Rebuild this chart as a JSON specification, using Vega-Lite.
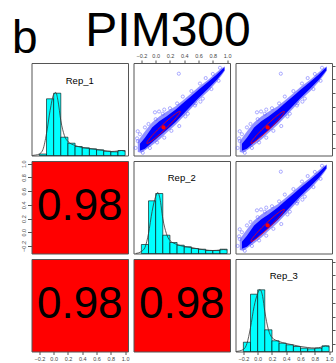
{
  "$schema": "https://vega.github.io/schema/vega-lite/v6.json",
  "padding": {"left": 10.5, "top": 7, "right": 0, "bottom": 0},
  "background": "white",
  "columns": 3,
  "spacing": 5,
  "bounds": "flush",
  "datasets": {
    "hist": [
      {"rep": "Rep_1", "b0": -0.2, "b1": -0.1, "h": 1.5},
      {"rep": "Rep_1", "b0": -0.1, "b1": 0.0, "h": 56.7},
      {"rep": "Rep_1", "b0": 0.0, "b1": 0.1, "h": 62.3},
      {"rep": "Rep_1", "b0": 0.1, "b1": 0.2, "h": 18.3},
      {"rep": "Rep_1", "b0": 0.2, "b1": 0.3, "h": 12.3},
      {"rep": "Rep_1", "b0": 0.3, "b1": 0.4, "h": 9},
      {"rep": "Rep_1", "b0": 0.4, "b1": 0.5, "h": 7.7},
      {"rep": "Rep_1", "b0": 0.5, "b1": 0.6, "h": 6.7},
      {"rep": "Rep_1", "b0": 0.6, "b1": 0.7, "h": 5.7},
      {"rep": "Rep_1", "b0": 0.7, "b1": 0.8, "h": 4.3},
      {"rep": "Rep_1", "b0": 0.8, "b1": 0.9, "h": 3.7},
      {"rep": "Rep_1", "b0": 0.9, "b1": 1.0, "h": 5},
      {"rep": "Rep_2", "b0": -0.2, "b1": -0.1, "h": 9},
      {"rep": "Rep_2", "b0": -0.1, "b1": 0.0, "h": 52.7},
      {"rep": "Rep_2", "b0": 0.0, "b1": 0.1, "h": 60},
      {"rep": "Rep_2", "b0": 0.1, "b1": 0.2, "h": 18.3},
      {"rep": "Rep_2", "b0": 0.2, "b1": 0.3, "h": 11},
      {"rep": "Rep_2", "b0": 0.3, "b1": 0.4, "h": 8.3},
      {"rep": "Rep_2", "b0": 0.4, "b1": 0.5, "h": 6.7},
      {"rep": "Rep_2", "b0": 0.5, "b1": 0.6, "h": 5},
      {"rep": "Rep_2", "b0": 0.6, "b1": 0.7, "h": 4.3},
      {"rep": "Rep_2", "b0": 0.7, "b1": 0.8, "h": 3},
      {"rep": "Rep_2", "b0": 0.8, "b1": 0.9, "h": 3},
      {"rep": "Rep_2", "b0": 0.9, "b1": 1.0, "h": 4.3},
      {"rep": "Rep_3", "b0": -0.2, "b1": -0.1, "h": 9.3},
      {"rep": "Rep_3", "b0": -0.1, "b1": 0.0, "h": 57.3},
      {"rep": "Rep_3", "b0": 0.0, "b1": 0.1, "h": 61.7},
      {"rep": "Rep_3", "b0": 0.1, "b1": 0.2, "h": 21.7},
      {"rep": "Rep_3", "b0": 0.2, "b1": 0.3, "h": 10.7},
      {"rep": "Rep_3", "b0": 0.3, "b1": 0.4, "h": 8.3},
      {"rep": "Rep_3", "b0": 0.4, "b1": 0.5, "h": 6.7},
      {"rep": "Rep_3", "b0": 0.5, "b1": 0.6, "h": 5},
      {"rep": "Rep_3", "b0": 0.6, "b1": 0.7, "h": 3.3},
      {"rep": "Rep_3", "b0": 0.7, "b1": 0.8, "h": 2.7},
      {"rep": "Rep_3", "b0": 0.8, "b1": 0.9, "h": 3.3},
      {"rep": "Rep_3", "b0": 0.9, "b1": 1.0, "h": 5.7}
    ],
    "dens": [
      {"rep": "Rep_1", "x": -0.30, "h": 0},
      {"rep": "Rep_1", "x": -0.25, "h": 0.5},
      {"rep": "Rep_1", "x": -0.2, "h": 1.5},
      {"rep": "Rep_1", "x": -0.15, "h": 6},
      {"rep": "Rep_1", "x": -0.1, "h": 22},
      {"rep": "Rep_1", "x": -0.05, "h": 45},
      {"rep": "Rep_1", "x": 0.0, "h": 61},
      {"rep": "Rep_1", "x": 0.03, "h": 63},
      {"rep": "Rep_1", "x": 0.06, "h": 55},
      {"rep": "Rep_1", "x": 0.1, "h": 35},
      {"rep": "Rep_1", "x": 0.15, "h": 20},
      {"rep": "Rep_1", "x": 0.2, "h": 14},
      {"rep": "Rep_1", "x": 0.3, "h": 10},
      {"rep": "Rep_1", "x": 0.4, "h": 8},
      {"rep": "Rep_1", "x": 0.5, "h": 7},
      {"rep": "Rep_1", "x": 0.6, "h": 6},
      {"rep": "Rep_1", "x": 0.7, "h": 5},
      {"rep": "Rep_1", "x": 0.8, "h": 4},
      {"rep": "Rep_1", "x": 0.9, "h": 4.5},
      {"rep": "Rep_1", "x": 0.95, "h": 5},
      {"rep": "Rep_1", "x": 1.0, "h": 4},
      {"rep": "Rep_2", "x": -0.28, "h": 0},
      {"rep": "Rep_2", "x": -0.2, "h": 2},
      {"rep": "Rep_2", "x": -0.15, "h": 6},
      {"rep": "Rep_2", "x": -0.1, "h": 20},
      {"rep": "Rep_2", "x": -0.05, "h": 42},
      {"rep": "Rep_2", "x": 0.0, "h": 57},
      {"rep": "Rep_2", "x": 0.03, "h": 61},
      {"rep": "Rep_2", "x": 0.06, "h": 55},
      {"rep": "Rep_2", "x": 0.1, "h": 35},
      {"rep": "Rep_2", "x": 0.15, "h": 20},
      {"rep": "Rep_2", "x": 0.2, "h": 13},
      {"rep": "Rep_2", "x": 0.3, "h": 9},
      {"rep": "Rep_2", "x": 0.4, "h": 7},
      {"rep": "Rep_2", "x": 0.5, "h": 6},
      {"rep": "Rep_2", "x": 0.6, "h": 4.5},
      {"rep": "Rep_2", "x": 0.7, "h": 3.5},
      {"rep": "Rep_2", "x": 0.8, "h": 3},
      {"rep": "Rep_2", "x": 0.9, "h": 3.5},
      {"rep": "Rep_2", "x": 0.95, "h": 4},
      {"rep": "Rep_2", "x": 1.0, "h": 3.5},
      {"rep": "Rep_3", "x": -0.3, "h": 0},
      {"rep": "Rep_3", "x": -0.2, "h": 2},
      {"rep": "Rep_3", "x": -0.15, "h": 8},
      {"rep": "Rep_3", "x": -0.1, "h": 24},
      {"rep": "Rep_3", "x": -0.05, "h": 45},
      {"rep": "Rep_3", "x": 0.0, "h": 58},
      {"rep": "Rep_3", "x": 0.03, "h": 62},
      {"rep": "Rep_3", "x": 0.07, "h": 55},
      {"rep": "Rep_3", "x": 0.1, "h": 40},
      {"rep": "Rep_3", "x": 0.15, "h": 22},
      {"rep": "Rep_3", "x": 0.2, "h": 14},
      {"rep": "Rep_3", "x": 0.3, "h": 10},
      {"rep": "Rep_3", "x": 0.4, "h": 8},
      {"rep": "Rep_3", "x": 0.5, "h": 6.5},
      {"rep": "Rep_3", "x": 0.6, "h": 5},
      {"rep": "Rep_3", "x": 0.7, "h": 4},
      {"rep": "Rep_3", "x": 0.8, "h": 3.5},
      {"rep": "Rep_3", "x": 0.9, "h": 4.5},
      {"rep": "Rep_3", "x": 0.95, "h": 5.5},
      {"rep": "Rep_3", "x": 1.0, "h": 4.5}
    ],
    "outer": [
      {"x": -0.25, "lo": -0.26, "hi": -0.10},
      {"x": -0.2, "lo": -0.27, "hi": -0.03},
      {"x": -0.13, "lo": -0.22, "hi": 0.07},
      {"x": -0.05, "lo": -0.16, "hi": 0.17},
      {"x": 0.05, "lo": -0.08, "hi": 0.26},
      {"x": 0.15, "lo": 0.02, "hi": 0.33},
      {"x": 0.28, "lo": 0.14, "hi": 0.41},
      {"x": 0.4, "lo": 0.27, "hi": 0.51},
      {"x": 0.5, "lo": 0.38, "hi": 0.60},
      {"x": 0.6, "lo": 0.50, "hi": 0.69},
      {"x": 0.74, "lo": 0.63, "hi": 0.80},
      {"x": 0.85, "lo": 0.76, "hi": 0.90},
      {"x": 0.93, "lo": 0.87, "hi": 0.97},
      {"x": 0.97, "lo": 0.93, "hi": 0.99}
    ],
    "inner": [
      {"x": -0.22, "lo": -0.24, "hi": -0.14},
      {"x": -0.15, "lo": -0.21, "hi": -0.05},
      {"x": -0.05, "lo": -0.12, "hi": 0.10},
      {"x": 0.05, "lo": -0.03, "hi": 0.19},
      {"x": 0.15, "lo": 0.06, "hi": 0.26},
      {"x": 0.28, "lo": 0.18, "hi": 0.36},
      {"x": 0.4, "lo": 0.31, "hi": 0.47},
      {"x": 0.5, "lo": 0.42, "hi": 0.56},
      {"x": 0.6, "lo": 0.53, "hi": 0.65},
      {"x": 0.74, "lo": 0.67, "hi": 0.77},
      {"x": 0.85, "lo": 0.79, "hi": 0.87},
      {"x": 0.93, "lo": 0.89, "hi": 0.95},
      {"x": 0.96, "lo": 0.93, "hi": 0.975}
    ],
    "pts": [
      {"x": 0.324, "y": 0.884}, {"x": 0.047, "y": 0.332}, {"x": -0.01, "y": 0.32},
      {"x": -0.251, "y": 0.044}, {"x": -0.251, "y": -0.1}, {"x": 0.416, "y": 0.26},
      {"x": 0.12, "y": 0.36}, {"x": -0.28, "y": -0.2}, {"x": -0.26, "y": -0.06},
      {"x": -0.22, "y": 0.0}, {"x": -0.18, "y": -0.27}, {"x": -0.15, "y": 0.1},
      {"x": -0.1, "y": 0.15}, {"x": -0.08, "y": -0.2}, {"x": 0.0, "y": 0.22},
      {"x": 0.02, "y": -0.12}, {"x": 0.1, "y": 0.3}, {"x": 0.12, "y": -0.05},
      {"x": 0.2, "y": 0.38}, {"x": 0.22, "y": 0.05}, {"x": 0.3, "y": 0.45},
      {"x": 0.33, "y": 0.12}, {"x": 0.38, "y": 0.55}, {"x": 0.45, "y": 0.3},
      {"x": 0.5, "y": 0.63}, {"x": 0.55, "y": 0.42}, {"x": 0.62, "y": 0.74},
      {"x": 0.66, "y": 0.52}, {"x": 0.7, "y": 0.82}, {"x": 0.78, "y": 0.66},
      {"x": 0.8, "y": 0.88}, {"x": 0.88, "y": 0.78}, {"x": 0.9, "y": 0.97},
      {"x": 0.626, "y": 0.476}, {"x": 0.56, "y": 0.45}
    ],
    "ell": [
      {"i": 0, "x2": 0.343, "x3": 0.373, "y": 0.333},
      {"i": 1, "x2": 0.300, "x3": 0.330, "y": 0.315},
      {"i": 2, "x2": 0.205, "x3": 0.235, "y": 0.238},
      {"i": 3, "x2": 0.085, "x3": 0.115, "y": 0.125},
      {"i": 4, "x2": -0.028, "x3": 0.002, "y": 0.005},
      {"i": 5, "x2": -0.105, "x3": -0.075, "y": -0.090},
      {"i": 6, "x2": -0.123, "x3": -0.093, "y": -0.133},
      {"i": 7, "x2": -0.080, "x3": -0.050, "y": -0.115},
      {"i": 8, "x2": 0.015, "x3": 0.045, "y": -0.038},
      {"i": 9, "x2": 0.135, "x3": 0.165, "y": 0.075},
      {"i": 10, "x2": 0.248, "x3": 0.278, "y": 0.195},
      {"i": 11, "x2": 0.325, "x3": 0.355, "y": 0.290}
    ],
    "mean": [{"x2": 0.11, "x3": 0.14, "y": 0.10}],
    "corr": [{"r": "0.98", "c": 0.365}],
    "heads": [
      {"t": "b", "x": -0.583, "y": 102.5},
      {"t": "PIM300", "x": 1.60, "y": 109.5}
    ]
  },
  "concat": [
    {
      "width": 96.5, "height": 92.5,
      "layer": [
        {"data": {"name": "hist"}, "transform": [{"filter": "datum.rep === 'Rep_1'"}],
         "mark": {"type": "rect", "fill": "#00ffff", "stroke": "black", "strokeWidth": 0.6},
         "encoding": {"x": {"field": "b0", "type": "quantitative", "scale": {"domain": [-0.31, 1.04]}, "axis": null}, "x2": {"field": "b1"},
                      "y": {"field": "h", "type": "quantitative", "scale": {"domain": [0, 92.5]}, "axis": null}, "y2": {"datum": 0}}},
        {"data": {"name": "dens"}, "transform": [{"filter": "datum.rep === 'Rep_1'"}],
         "mark": {"type": "line", "color": "#333", "strokeWidth": 0.8, "interpolate": "monotone"},
         "encoding": {"x": {"field": "x", "type": "quantitative", "scale": {"domain": [-0.31, 1.04]}}, "y": {"field": "h", "type": "quantitative", "scale": {"domain": [0, 92.5]}}}},
        {"data": {"values": [{"t": "Rep_1"}]},
         "mark": {"type": "text", "fontSize": 9.5, "color": "black"},
         "encoding": {"text": {"field": "t"}, "x": {"datum": 0.365, "type": "quantitative", "scale": {"domain": [-0.31, 1.04]}}, "y": {"datum": 74.5, "type": "quantitative", "scale": {"domain": [0, 92.5]}}}},
        {"data": {"name": "heads"}, "transform": [{"filter": "datum.t === 'b'"}],
         "mark": {"type": "text", "fontSize": 46, "color": "black", "align": "left", "baseline": "alphabetic", "clip": false},
         "encoding": {"text": {"field": "t"}, "x": {"field": "x", "type": "quantitative", "scale": {"domain": [-0.31, 1.04]}}, "y": {"field": "y", "type": "quantitative", "scale": {"domain": [0, 92.5]}}}},
        {"data": {"name": "heads"}, "transform": [{"filter": "datum.t === 'PIM300'"}],
         "mark": {"type": "text", "fontSize": 48, "color": "black", "align": "center", "baseline": "alphabetic", "clip": false},
         "encoding": {"text": {"field": "t"}, "x": {"field": "x", "type": "quantitative", "scale": {"domain": [-0.31, 1.04]}}, "y": {"field": "y", "type": "quantitative", "scale": {"domain": [0, 92.5]}}}}
      ]
    },
    {
      "width": 96.5, "height": 92.5,
      "encoding": {
        "x": {"type": "quantitative", "scale": {"domain": [-0.31, 1.04]}, "axis": {"orient": "top", "title": null, "values": [-0.2, 0, 0.2, 0.4, 0.6, 0.8, 1.0], "format": ".1f", "labelOverlap": false, "labelBound": false}},
        "y": {"type": "quantitative", "scale": {"domain": [-0.31, 1.04]}, "axis": null}
      },
      "layer": [
        {"data": {"name": "outer"}, "mark": {"type": "area", "color": "#4646ff", "opacity": 0.6},
         "encoding": {"x": {"field": "x"}, "y": {"field": "lo"}, "y2": {"field": "hi"}}},
        {"data": {"name": "inner"}, "mark": {"type": "area", "color": "#0000ff"},
         "encoding": {"x": {"field": "x"}, "y": {"field": "lo"}, "y2": {"field": "hi"}}},
        {"data": {"name": "pts"}, "mark": {"type": "point", "shape": "circle", "filled": false, "size": 10, "color": "#5050ff", "strokeWidth": 0.8, "opacity": 0.6},
         "encoding": {"x": {"field": "x"}, "y": {"field": "y"}}},
        {"data": {"name": "ell"}, "mark": {"type": "line", "color": "#ff0000", "strokeWidth": 0.8, "interpolate": "cardinal-closed"},
         "encoding": {"x": {"field": "x2"}, "y": {"field": "y"}, "order": {"field": "i"}}},
        {"data": {"name": "mean"}, "mark": {"type": "point", "shape": "circle", "filled": true, "size": 18, "color": "#ff0000", "opacity": 1},
         "encoding": {"x": {"field": "x2"}, "y": {"field": "y"}}}
      ]
    },
    {
      "width": 96.5, "height": 92.5,
      "encoding": {
        "x": {"type": "quantitative", "scale": {"domain": [-0.31, 1.04]}, "axis": null},
        "y": {"type": "quantitative", "scale": {"domain": [-0.31, 1.04]}, "axis": {"orient": "right", "title": null, "labels": false, "values": [-0.2, 0, 0.2, 0.4, 0.6, 0.8, 1.0]}}
      },
      "layer": [
        {"data": {"name": "outer"}, "mark": {"type": "area", "color": "#4646ff", "opacity": 0.6},
         "encoding": {"x": {"field": "x"}, "y": {"field": "lo"}, "y2": {"field": "hi"}}},
        {"data": {"name": "inner"}, "mark": {"type": "area", "color": "#0000ff"},
         "encoding": {"x": {"field": "x"}, "y": {"field": "lo"}, "y2": {"field": "hi"}}},
        {"data": {"name": "pts"}, "mark": {"type": "point", "shape": "circle", "filled": false, "size": 10, "color": "#5050ff", "strokeWidth": 0.8, "opacity": 0.6},
         "encoding": {"x": {"field": "x"}, "y": {"field": "y"}}},
        {"data": {"name": "ell"}, "mark": {"type": "line", "color": "#ff0000", "strokeWidth": 0.8, "interpolate": "cardinal-closed"},
         "encoding": {"x": {"field": "x3"}, "y": {"field": "y"}, "order": {"field": "i"}}},
        {"data": {"name": "mean"}, "mark": {"type": "point", "shape": "circle", "filled": true, "size": 18, "color": "#ff0000", "opacity": 1},
         "encoding": {"x": {"field": "x3"}, "y": {"field": "y"}}}
      ]
    },
    {
      "width": 96.5, "height": 92.5,
      "view": {"fill": "#ff0000", "stroke": "#555"},
      "data": {"name": "corr"},
      "mark": {"type": "text", "fontSize": 44, "color": "black", "baseline": "middle"},
      "encoding": {"text": {"field": "r"},
                   "x": {"field": "c", "type": "quantitative", "scale": {"domain": [-0.31, 1.04]}, "axis": null},
                   "y": {"field": "c", "type": "quantitative", "scale": {"domain": [-0.31, 1.04]}, "axis": {"orient": "left", "title": null, "values": [-0.2, 0, 0.2, 0.4, 0.6, 0.8, 1.0], "format": ".1f", "labelAngle": -90, "labelPadding": 1.5, "tickSize": 4, "labelOverlap": false, "labelBound": false}}}
    },
    {
      "width": 96.5, "height": 92.5,
      "layer": [
        {"data": {"name": "hist"}, "transform": [{"filter": "datum.rep === 'Rep_2'"}],
         "mark": {"type": "rect", "fill": "#00ffff", "stroke": "black", "strokeWidth": 0.6},
         "encoding": {"x": {"field": "b0", "type": "quantitative", "scale": {"domain": [-0.31, 1.04]}, "axis": null}, "x2": {"field": "b1"},
                      "y": {"field": "h", "type": "quantitative", "scale": {"domain": [0, 92.5]}, "axis": null}, "y2": {"datum": 0}}},
        {"data": {"name": "dens"}, "transform": [{"filter": "datum.rep === 'Rep_2'"}],
         "mark": {"type": "line", "color": "#333", "strokeWidth": 0.8, "interpolate": "monotone"},
         "encoding": {"x": {"field": "x", "type": "quantitative", "scale": {"domain": [-0.31, 1.04]}}, "y": {"field": "h", "type": "quantitative", "scale": {"domain": [0, 92.5]}}}},
        {"data": {"values": [{"t": "Rep_2"}]},
         "mark": {"type": "text", "fontSize": 9.5, "color": "black"},
         "encoding": {"text": {"field": "t"}, "x": {"datum": 0.365, "type": "quantitative", "scale": {"domain": [-0.31, 1.04]}}, "y": {"datum": 75.5, "type": "quantitative", "scale": {"domain": [0, 92.5]}}}}
      ]
    },
    {
      "width": 96.5, "height": 92.5,
      "encoding": {
        "x": {"type": "quantitative", "scale": {"domain": [-0.31, 1.04]}, "axis": null},
        "y": {"type": "quantitative", "scale": {"domain": [-0.31, 1.04]}, "axis": null}
      },
      "layer": [
        {"data": {"name": "outer"}, "mark": {"type": "area", "color": "#4646ff", "opacity": 0.6},
         "encoding": {"x": {"field": "x"}, "y": {"field": "lo"}, "y2": {"field": "hi"}}},
        {"data": {"name": "inner"}, "mark": {"type": "area", "color": "#0000ff"},
         "encoding": {"x": {"field": "x"}, "y": {"field": "lo"}, "y2": {"field": "hi"}}},
        {"data": {"name": "pts"}, "mark": {"type": "point", "shape": "circle", "filled": false, "size": 10, "color": "#5050ff", "strokeWidth": 0.8, "opacity": 0.6},
         "encoding": {"x": {"field": "x"}, "y": {"field": "y"}}},
        {"data": {"name": "ell"}, "mark": {"type": "line", "color": "#ff0000", "strokeWidth": 0.8, "interpolate": "cardinal-closed"},
         "encoding": {"x": {"field": "x3"}, "y": {"field": "y"}, "order": {"field": "i"}}},
        {"data": {"name": "mean"}, "mark": {"type": "point", "shape": "circle", "filled": true, "size": 18, "color": "#ff0000", "opacity": 1},
         "encoding": {"x": {"field": "x3"}, "y": {"field": "y"}}}
      ]
    },
    {
      "width": 96.5, "height": 92.5,
      "view": {"fill": "#ff0000", "stroke": "#555"},
      "data": {"name": "corr"},
      "mark": {"type": "text", "fontSize": 44, "color": "black", "baseline": "middle"},
      "encoding": {"text": {"field": "r"},
                   "x": {"field": "c", "type": "quantitative", "scale": {"domain": [-0.31, 1.04]}, "axis": {"orient": "bottom", "title": null, "values": [-0.2, 0, 0.2, 0.4, 0.6, 0.8, 1.0], "format": ".1f", "labelOverlap": false, "labelBound": false}},
                   "y": {"field": "c", "type": "quantitative", "scale": {"domain": [-0.31, 1.04]}, "axis": null}}
    },
    {
      "width": 96.5, "height": 92.5,
      "view": {"fill": "#ff0000", "stroke": "#555"},
      "data": {"name": "corr"},
      "mark": {"type": "text", "fontSize": 44, "color": "black", "baseline": "middle"},
      "encoding": {"text": {"field": "r"},
                   "x": {"field": "c", "type": "quantitative", "scale": {"domain": [-0.31, 1.04]}, "axis": null},
                   "y": {"field": "c", "type": "quantitative", "scale": {"domain": [-0.31, 1.04]}, "axis": null}}
    },
    {
      "width": 96.5, "height": 92.5,
      "encoding": {
        "x": {"type": "quantitative", "scale": {"domain": [-0.31, 1.04]}, "axis": {"orient": "bottom", "title": null, "values": [-0.2, 0, 0.2, 0.4, 0.6, 0.8, 1.0], "format": ".1f", "labelOverlap": false, "labelBound": false}},
        "y": {"type": "quantitative", "scale": {"domain": [0, 92.5]}, "axis": {"orient": "right", "title": null, "labels": false, "values": [7.54, 21.24, 34.94, 48.65, 62.35, 76.06, 89.76]}}
      },
      "layer": [
        {"data": {"name": "hist"}, "transform": [{"filter": "datum.rep === 'Rep_3'"}],
         "mark": {"type": "rect", "fill": "#00ffff", "stroke": "black", "strokeWidth": 0.6},
         "encoding": {"x": {"field": "b0"}, "x2": {"field": "b1"}, "y": {"field": "h"}, "y2": {"datum": 0}}},
        {"data": {"name": "dens"}, "transform": [{"filter": "datum.rep === 'Rep_3'"}],
         "mark": {"type": "line", "color": "#333", "strokeWidth": 0.8, "interpolate": "monotone"},
         "encoding": {"x": {"field": "x"}, "y": {"field": "h"}}},
        {"data": {"values": [{"t": "Rep_3"}]},
         "mark": {"type": "text", "fontSize": 9.5, "color": "black"},
         "encoding": {"text": {"field": "t"}, "x": {"datum": 0.365}, "y": {"datum": 76}}}
      ]
    }
  ],
  "config": {
    "view": {"stroke": "#555", "strokeWidth": 1},
    "axis": {"grid": false, "domain": false, "labelFont": "Liberation Sans", "labelFontSize": 5.5, "labelColor": "#444", "tickColor": "#555", "tickSize": 3, "labelPadding": 1.5, "labelFlush": false, "labelOverlap": false},
    "text": {"font": "Liberation Sans"}
  }
}
